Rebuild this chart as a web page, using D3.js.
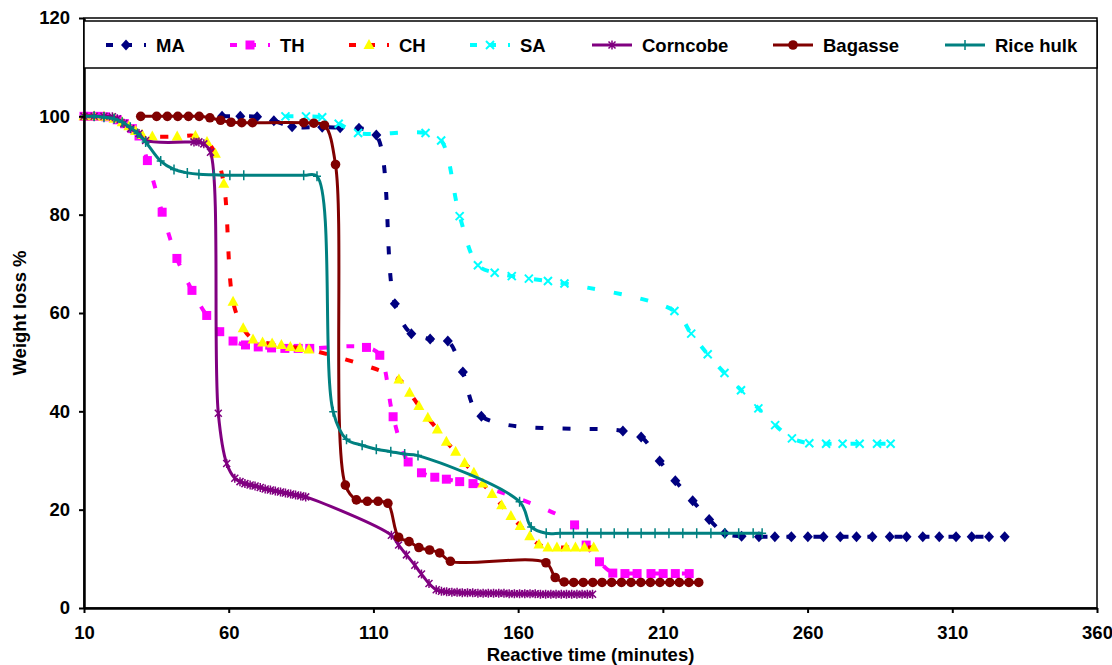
<!DOCTYPE html>
<html>
<head>
<meta charset="utf-8">
<script src="https://cdn.jsdelivr.net/npm/d3@7"></script>
<style>
  body { margin: 0; background: #fff; }
  text { font-family: Arial, "Liberation Sans", sans-serif; font-weight: bold; }
</style>
</head>
<body>
<div id="viz"></div>
<script>
// [time (min), weight loss %]
var MA = [[57.7,100],[64,100],[69.8,99.9],[75.6,99.1],[81.9,97.9],[92.3,97.8],[98.5,97.7],[105,97.6],[111,96.2],
  [117.4,61.9],[123.1,55.8],[129.6,54.7],[135.7,54.3],[140.9,48],[147.3,39],[196.2,36],[202.5,34.8],[208.9,29.9],
  [214.3,25.9],[220.3,21.8],[226,18],[231.4,15.2],[237.2,14.6],[243.2,14.5],[248.7,14.5],[254.4,14.5],[260.1,14.5],
  [265.5,14.5],[271.3,14.5],[276.9,14.5],[282.4,14.5],[288.4,14.5],[294.2,14.5],[299.8,14.5],[305.5,14.5],
  [311.3,14.5],[316.7,14.5],[322.7,14.5],[328.1,14.5]];
var TH = [[10,100],[12.3,100],[15,100],[17.5,99.9],[21.5,99.3],[24,98.5],[26.7,97.5],[29,96],[31.9,91],[37,80.5],
  [42.1,71.1],[47.3,64.6],[52.4,59.5],[56.9,56.2],[61.5,54.3],[65.8,53.5],[70.2,53.1],[74.8,52.9],[79.4,52.8],
  [84,52.8],[88,52.8],[107.6,53],[112.2,51.4],[116.8,38.9],[122,29.7],[126.6,27.5],[131.2,26.6],[135.2,26.2],
  [139.8,25.7],[144.4,25.3],[179.5,16.9],[183.5,12.8],[188.1,9.4],[192.7,7.1],[196.9,7],[201.1,7],[205.9,7],
  [210.1,7],[214.3,7],[219.1,7]];
var CH = [[10,100],[13.5,100],[16.9,99.9],[20.4,99.5],[23.2,98.8],[25.5,98],[27.8,97],[30.1,96.2],[33.6,95.9],
  [42.2,95.9],[48.5,96],[52.5,94.8],[55.4,92.4],[58.3,86.3],[61.5,62.3],[65,56.9],[68.4,54.6],[71.7,54],[75,53.8],
  [78.2,53.5],[81.3,53.1],[84.6,52.9],[87.7,52.6],[118.8,46.5],[122.5,43.8],[125.7,41.1],[128.8,38.7],[132.1,36.3],
  [135.2,33.8],[138.4,31.8],[141.5,29.5],[144.7,27.5],[147.8,25.3],[151,23.2],[154.3,20.9],[157.5,18.7],
  [160.7,16.7],[164,14.6],[167.2,12.9],[170.3,12.3],[173.4,12.3],[176.6,12.3],[179.8,12.3],[182.9,12.3],[186.1,12.3]];
var SA = [[79.6,100],[86.7,100],[92.3,99.8],[98,98.5],[104.7,96.6],[128,96.6],[133.4,95.1],[139.8,79.7],[146.1,69.7],
  [151.9,68.2],[157.8,67.5],[163.7,67],[170.3,66.5],[176,66],[214,60.4],[219.8,55.8],[225.5,51.6],[231.3,47.8],
  [237,44.3],[243,40.6],[248.8,37.2],[254.6,34.5],[260.6,33.5],[266.4,33.4],[272.1,33.4],[278,33.4],[284,33.4],[288.7,33.4]];
var Corncobe = [[10,100],[13.5,100],[16.9,100],[19.8,99.9],[21.5,99.5],[23.8,98.6],[26.1,97.5],[29,96.5],[31.3,95.1],
  [48,94.8],[49.7,94.8],[51.4,94.4],[53.7,92.7],[56.4,39.6],[59.3,29.4],[62.1,26.4],[63.9,25.7],[65.6,25.3],[67.4,25],
  [69.1,24.8],[70.9,24.5],[72.6,24.2],[74.4,24],[76.1,23.8],[77.9,23.6],[79.6,23.4],[81.4,23.2],[83.1,23],[84.9,22.8],
  [86.6,22.6],[116.2,14.8],[118.7,12.8],[121.4,10.8],[124.3,8.7],[126.6,6.9],[129.2,5],[131.7,3.7],[133.5,3.4],
  [135.3,3.3],[137.1,3.2],[138.9,3.2],[140.7,3.1],[142.5,3.1],[144.3,3.1],[146.1,3],[147.9,3],[149.7,3],[151.5,3],
  [153.3,3],[155.1,3],[156.9,2.9],[158.7,2.9],[160.5,2.9],[162.3,2.9],[164.1,2.9],[165.9,2.9],[167.7,2.8],[169.5,2.8],
  [171.3,2.8],[173.1,2.8],[174.9,2.8],[176.7,2.8],[178.5,2.8],[180.3,2.8],[182.1,2.8],[183.9,2.8],[185.7,2.8]];
var Bagasse = [[29.6,100],[35.1,100],[38.8,100],[42.4,100],[46.1,100],[49.8,100],[53.5,99.7],[57.2,99.2],[60.8,98.8],
  [64.5,98.7],[68.2,98.7],[85.9,98.7],[89.4,98.6],[93.1,98.2],[96.9,90.2],[100.3,25],[104.1,22],[107.9,21.7],
  [111.6,21.7],[115,21.3],[118.7,14.4],[122.3,13.5],[125.7,12.3],[129.4,11.8],[132.9,11.2],[136.6,9.5],[169.6,9.2],
  [172.8,6.2],[175.9,5.3],[179.2,5.2],[182.5,5.2],[185.8,5.2],[189,5.2],[192.3,5.2],[195.7,5.2],[199,5.2],[202.4,5.2],
  [205.7,5.2],[209,5.2],[212.4,5.2],[215.7,5.2],[219,5.2],[222.4,5.2]];
var RiceHulk = [[10,100],[13.5,100],[16.9,99.8],[20.4,99.5],[23.2,98.8],[26,97.8],[28.5,96.5],[31.3,94.8],[36.5,90.9],
  [41.1,89.2],[45.7,88.5],[49.7,88.2],[54.9,88.1],[60.4,88],[65.2,88],[85.9,88],[90.5,87.8],[96.1,39.9],[100.7,34.3],
  [106.1,33.1],[111,32.3],[116,31.8],[120.8,31.3],[125.4,31],[160.5,21.6],[164.5,16.5],[169.7,15.2],[174.5,15.2],
  [179.1,15.2],[183.9,15.2],[188.6,15.2],[193.2,15.2],[197.9,15.2],[202.5,15.2],[207.3,15.2],[212.1,15.2],
  [216.9,15.2],[221.7,15.2],[226.6,15.2],[231.4,15.2],[236.2,15.2],[241.2,15.2],[244.3,15.2]];

var seriesNames = ['MA', 'TH', 'CH', 'SA', 'Corncobe', 'Bagasse', 'Rice hulk'];
var xTicks = [10, 60, 110, 160, 210, 260, 310, 360];
var yTicks = [0, 20, 40, 60, 80, 100, 120];

var width = 1112, height = 665;
var margin = {top: 18, right: 15, bottom: 57, left: 84};
var fontSize = '18.5px';

var series = [
  {name: 'MA', data: MA, color: '#000080', dash: '8,19', lw: 4, marker: 'diamond', mfill: '#000080'},
  {name: 'TH', data: TH, color: '#ff00ff', dash: '8,19', lw: 4, marker: 'square', mfill: '#ff00ff'},
  {name: 'CH', data: CH, color: '#ff0000', dash: '8,19', lw: 4, marker: 'triangle', mfill: '#ffff00'},
  {name: 'SA', data: SA, color: '#00ffff', dash: '8,19', lw: 4, marker: 'x', mfill: '#00ffff'},
  {name: 'Corncobe', data: Corncobe, color: '#800080', dash: null, lw: 3, marker: 'star', mfill: '#800080'},
  {name: 'Bagasse', data: Bagasse, color: '#800000', dash: null, lw: 3, marker: 'circle', mfill: '#800000'},
  {name: 'Rice hulk', data: RiceHulk, color: '#008080', dash: null, lw: 3, marker: 'plus', mfill: '#008080'}
];

var x = d3.scaleLinear().domain([10, 360]).range([margin.left, width - margin.right]);
var y = d3.scaleLinear().domain([0, 120]).range([height - margin.bottom, margin.top]);

var svg = d3.select('#viz').append('svg')
  .attr('width', width)
  .attr('height', height)
  .style('background', '#fff');

// plot frame
svg.append('rect')
  .attr('x', x(10)).attr('y', y(120))
  .attr('width', x(360) - x(10)).attr('height', y(0) - y(120))
  .attr('fill', 'none').attr('stroke', '#000').attr('stroke-width', 1.5);

var line = d3.line()
  .x(function(d) { return x(d[0]); })
  .y(function(d) { return y(d[1]); })
  .curve(d3.curveCatmullRom.alpha(0.5));

function drawMarker(g, s, cx, cy) {
  var m = s.marker;
  var tr = 'translate(' + cx + ',' + cy + ')';
  if (m === 'diamond') {
    g.append('path').attr('d', 'M0,-5.5L5,0L0,5.5L-5,0Z').attr('transform', tr).attr('fill', s.mfill);
  } else if (m === 'square') {
    g.append('rect').attr('x', cx - 4.5).attr('y', cy - 4.5).attr('width', 9).attr('height', 9).attr('fill', s.mfill);
  } else if (m === 'triangle') {
    g.append('path').attr('d', 'M0,-6L5.5,4L-5.5,4Z').attr('transform', tr).attr('fill', s.mfill);
  } else if (m === 'x') {
    g.append('path').attr('d', 'M-4,-4L4,4M-4,4L4,-4')
      .attr('transform', tr).attr('stroke', s.mfill).attr('stroke-width', 2).attr('fill', 'none');
  } else if (m === 'star') {
    g.append('path').attr('d', 'M-3.5,-3.5L3.5,3.5M-3.5,3.5L3.5,-3.5M0,-4.5L0,4.5')
      .attr('transform', tr).attr('stroke', s.mfill).attr('stroke-width', 1.5).attr('fill', 'none');
  } else if (m === 'circle') {
    g.append('circle').attr('cx', cx).attr('cy', cy).attr('r', 4.8).attr('fill', s.mfill);
  } else if (m === 'plus') {
    g.append('path').attr('d', 'M-4,0L4,0M0,-5L0,5')
      .attr('transform', tr).attr('stroke', s.mfill).attr('stroke-width', 1.5).attr('fill', 'none');
  }
}

var plot = svg.append('g');
series.forEach(function(s) {
  var g = plot.append('g');
  g.append('path')
    .datum(s.data)
    .attr('d', line)
    .attr('fill', 'none')
    .attr('stroke', s.color)
    .attr('stroke-width', s.lw)
    .attr('stroke-dasharray', s.dash);
  s.data.forEach(function(d) { drawMarker(g, s, x(d[0]), y(d[1])); });
});

// axes
var yAxis = svg.append('g')
  .attr('transform', 'translate(' + x(10) + ',0)')
  .call(d3.axisLeft(y).tickValues(yTicks).tickSize(5).tickPadding(9).tickSizeOuter(0));
var xAxis = svg.append('g')
  .attr('transform', 'translate(0,' + y(0) + ')')
  .call(d3.axisBottom(x).tickValues(xTicks).tickSize(5).tickPadding(13).tickSizeOuter(0));
[yAxis, xAxis].forEach(function(a) {
  a.select('.domain').attr('stroke', '#000').attr('stroke-width', 2.5);
  a.selectAll('.tick line').attr('stroke', '#000').attr('stroke-width', 2);
  a.selectAll('.tick text').attr('fill', '#000').style('font-size', fontSize).style('font-weight', 'bold')
    .style('font-family', 'Arial, "Liberation Sans", sans-serif');
});

svg.append('text')
  .attr('x', (x(10) + x(360)) / 2).attr('y', 661)
  .attr('text-anchor', 'middle').style('font-size', fontSize)
  .text('Reactive time (minutes)');
svg.append('text')
  .attr('transform', 'translate(26,' + ((y(0) + y(120)) / 2) + ') rotate(-90)')
  .attr('text-anchor', 'middle').style('font-size', fontSize)
  .text('Weight loss %');

// legend
var legendX = [106, 230, 349, 470, 592, 773, 945];
var legend = svg.append('g');
legend.append('rect')
  .attr('x', x(10)).attr('y', 21).attr('width', x(360) - x(10)).attr('height', 47)
  .attr('fill', '#fff').attr('stroke', '#000').attr('stroke-width', 1.5);
series.forEach(function(s, i) {
  var lx = legendX[i], ly = 45;
  legend.append('line')
    .attr('x1', lx).attr('x2', lx + 40).attr('y1', ly).attr('y2', ly)
    .attr('stroke', s.color).attr('stroke-width', s.lw)
    .attr('stroke-dasharray', s.dash ? '7,12' : null);
  drawMarker(legend, s, lx + 20, ly);
  legend.append('text')
    .attr('x', lx + 50).attr('y', ly + 7)
    .style('font-size', fontSize)
    .text(seriesNames[i]);
});
</script>
</body>
</html>
